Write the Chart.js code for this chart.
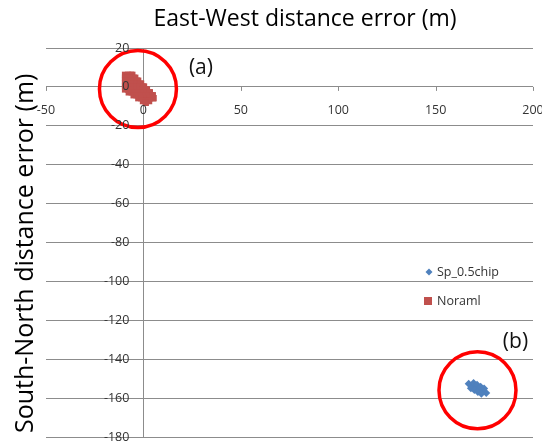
<!DOCTYPE html>
<html>
<head>
<meta charset="utf-8">
<script src="https://cdn.jsdelivr.net/npm/chart.js@4.4.0/dist/chart.umd.min.js"></script>
<style>
  html, body { margin: 0; padding: 0; background: #fff; }
  .chart-container { position: relative; width: 542px; height: 446px; }
</style>
</head>
<body>
<div class="chart-container"><canvas id="myCanvas"></canvas></div>
<script>
const xTicks = [-50, 0, 50, 100, 150, 200];
const yTicks = [20, 0, -20, -40, -60, -80, -100, -120, -140, -160, -180];

// Noraml cluster (a)
const normalX = [
  -9.4, -7.9, -6.4, -5.7,
  -9.4, -7.9, -6.4, -4.9, -4.2,
  -9.4, -7.9, -6.4, -4.9, -3.4, -2.7,
  -9.4, -7.9, -6.4, -4.9, -3.4, -1.9, -1.2,
  -9.4, -7.9, -6.4, -4.9, -3.4, -1.9, -0.4, 0.3,
  -9.4, -7.9, -6.4, -4.9, -3.4, -1.9, -0.4, 1.1, 1.8,
  -7.5, -6, -4.5, -3, -1.5, 0, 1.5, 3, 3.3,
  -5, -3.5, -2, -0.5, 1, 2.5, 4, 4.8,
  -2.6, -1.1, 0.4, 1.9, 3.4, 4.9, 5.2,
  -0.2, 1.3, 2.9,
  1.2,
];
const normalY = [
  6.2, 6.2, 6.2, 6.2,
  4.7, 4.7, 4.7, 4.7, 4.7,
  3.2, 3.2, 3.2, 3.2, 3.2, 3.2,
  1.7, 1.7, 1.7, 1.7, 1.7, 1.7, 1.7,
  0.2, 0.2, 0.2, 0.2, 0.2, 0.2, 0.2, 0.2,
  -1.3, -1.3, -1.3, -1.3, -1.3, -1.3, -1.3, -1.3, -1.3,
  -2.8, -2.8, -2.8, -2.8, -2.8, -2.8, -2.8, -2.8, -2.8,
  -4.3, -4.3, -4.3, -4.3, -4.3, -4.3, -4.3, -4.3,
  -5.8, -5.8, -5.8, -5.8, -5.8, -5.8, -5.8,
  -7.3, -7.3, -7.3,
  -8.2,
];

// Sp_0.5chip cluster (b)
const spX = [167, 169.2, 171.5, 173.8, 176, 169.5, 171.3, 173.1, 174.9, 168.1, 169.9, 171.7, 173.5];
const spY = [-152.6, -153.8, -155, -156.2, -157.4, -152.3, -153.2, -154.2, -155.1, -154.9, -155.8, -156.8, -157.7];

// highlight circles
const circleX = [-2.8, 171.5];
const circleY = [-1.1, -156];
const circleLabels = ["(a)", "(b)"];

const seriesNames = ["Sp_0.5chip", "Noraml"];
const xTitle = "East-West distance error (m)";
const yTitle = "South-North distance error (m)";

function toPoints(xs, ys) {
  return xs.map((x, i) => ({ x: x, y: ys[i] }));
}

const labelColor = "#333333";

const decorPlugin = {
  id: "decor",
  beforeDatasetsDraw(chart) {
    const { ctx, scales: { x, y }, chartArea } = chart;
    const x0 = x.getPixelForValue(0);
    const y0 = y.getPixelForValue(0);
    ctx.save();
    ctx.strokeStyle = "#8c8c8c";
    ctx.lineWidth = 1;
    // vertical axis line
    ctx.beginPath();
    ctx.moveTo(Math.round(x0) + 0.5, chartArea.top);
    ctx.lineTo(Math.round(x0) + 0.5, chartArea.bottom);
    ctx.stroke();
    // x tick marks
    xTicks.forEach((v) => {
      const px = Math.round(x.getPixelForValue(v)) + 0.5;
      ctx.beginPath();
      ctx.moveTo(px, y0);
      ctx.lineTo(px, y0 + 4);
      ctx.stroke();
    });
    ctx.restore();
  },
  afterDraw(chart) {
    const { ctx, scales: { x, y } } = chart;
    const x0 = x.getPixelForValue(0);
    const y0 = y.getPixelForValue(0);
    ctx.save();
    ctx.fillStyle = labelColor;
    ctx.font = "12.5px 'Open Sans'";
    ctx.textBaseline = "middle";
    ctx.textAlign = "right";
    yTicks.forEach((v) => {
      ctx.fillText(String(v), x0 - 14, y.getPixelForValue(v));
    });
    ctx.textAlign = "center";
    xTicks.forEach((v) => {
      ctx.fillText(String(v), x.getPixelForValue(v), y0 + 24);
    });

    // titles
    ctx.fillStyle = "#000";
    ctx.textBaseline = "alphabetic";
    ctx.font = "23px 'Open Sans'";
    ctx.fillText(xTitle, 305, 26);
    ctx.save();
    ctx.font = "25px 'Open Sans'";
    ctx.textAlign = "left";
    ctx.translate(33, 433);
    ctx.rotate(-Math.PI / 2);
    ctx.fillText(yTitle, 0, 0);
    ctx.restore();

    // circle labels
    ctx.textBaseline = "middle";
    ctx.font = "21px 'Open Sans'";
    ctx.fillStyle = "#111";
    ctx.fillText(circleLabels[0], x.getPixelForValue(circleX[0]) + 63, y.getPixelForValue(circleY[0]) - 21);
    ctx.fillText(circleLabels[1], x.getPixelForValue(circleX[1]) + 38, y.getPixelForValue(circleY[1]) - 48);

    // legend
    ctx.font = "12.5px 'Open Sans'";
    ctx.fillStyle = labelColor;
    ctx.textAlign = "left";
    ctx.fillText(seriesNames[0], 437, 272);
    ctx.fillText(seriesNames[1], 437, 301);
    ctx.fillStyle = "#4f81bd";
    ctx.beginPath();
    ctx.moveTo(429, 268.5);
    ctx.lineTo(432.5, 272);
    ctx.lineTo(429, 275.5);
    ctx.lineTo(425.5, 272);
    ctx.closePath();
    ctx.fill();
    ctx.fillStyle = "#c0504d";
    ctx.fillRect(424, 297, 8, 8);
    ctx.restore();
  },
};

const data = {
  datasets: [
    {
      label: seriesNames[0],
      data: toPoints(spX, spY),
      pointStyle: "rectRot",
      pointRadius: 4,
      backgroundColor: "#4f81bd",
      borderColor: "#4f81bd",
      borderWidth: 0,
    },
    {
      label: seriesNames[1],
      data: toPoints(normalX, normalY),
      pointStyle: "rect",
      pointRadius: 4.5,
      backgroundColor: "#c0504d",
      borderColor: "#c0504d",
      borderWidth: 0,
    },
    {
      label: "circles",
      data: toPoints(circleX, circleY),
      pointStyle: "circle",
      pointRadius: 38.5,
      backgroundColor: "rgba(0,0,0,0)",
      borderColor: "#ff0000",
      borderWidth: 3.5,
    },
  ],
};

const config = {
  type: "scatter",
  data: data,
  plugins: [decorPlugin],
  options: {
    responsive: true,
    maintainAspectRatio: false,
    animation: false,
    layout: {
      autoPadding: false,
      padding: { left: 46, right: 9, top: 48, bottom: 9 },
    },
    scales: {
      x: {
        type: "linear",
        min: -50,
        max: 200,
        ticks: { display: false, stepSize: 50 },
        grid: { display: false, drawTicks: false },
        border: { display: false },
      },
      y: {
        type: "linear",
        min: -180,
        max: 20,
        ticks: { display: false, stepSize: 20 },
        grid: { color: "#8c8c8c", drawTicks: false, lineWidth: 1 },
        border: { display: false },
      },
    },
    plugins: {
      legend: { display: false },
      tooltip: { enabled: false },
    },
  },
};

const myChart = new Chart(document.querySelector("#myCanvas"), config);
</script>
</body>
</html>
